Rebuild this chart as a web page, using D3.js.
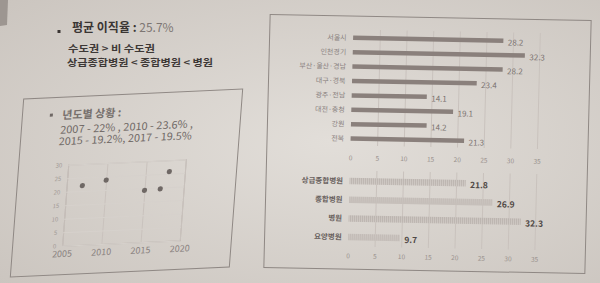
<!DOCTYPE html>
<html>
<head>
<meta charset="utf-8">
<title>이직율 현황</title>
<script src="https://d3js.org/d3.v7.min.js"></script>
<style>
  body { margin:0; background:#d8d3cd; }
  svg text { font-family:"Noto Sans CJK KR","Noto Sans",sans-serif; }
</style>
</head>
<body>
<svg id="chart" width="600" height="283"></svg>
<script type="text/javascript">

// ---- data ----
const years = [2007, 2010, 2015, 2017, 2018];
const yearRates = [22, 23.6, 19.2, 19.5, 25.7];
const yearTicks = [2005, 2010, 2015, 2020];
const rateTicks = [0, 5, 10, 15, 20, 25, 30];

const regions = ['서울시', '인천경기', '부산·울산·경남', '대구·경북', '광주·전남', '대전·충청', '강원', '전북'];
const regionRates = [28.2, 32.3, 28.2, 23.4, 14.1, 19.1, 14.2, 21.3];

const hospitalTypes = ['상급종합병원', '종합병원', '병원', '요양병원'];
const hospitalRates = [21.8, 26.9, 32.3, 9.7];

const barTicks = [0, 5, 10, 15, 20, 25, 30, 35];

const svg = d3.select('#chart');
const defs = svg.append('defs');

// photo background, a bit darker at the corners
const grad = defs.append('radialGradient').attr('id', 'bg')
  .attr('cx', '55%').attr('cy', '50%').attr('r', '75%');
grad.append('stop').attr('offset', '0%').attr('stop-color', '#e2ded9');
grad.append('stop').attr('offset', '100%').attr('stop-color', '#cbc5bf');
svg.append('rect').attr('width', 600).attr('height', 283).attr('fill', 'url(#bg)');
svg.append('path').attr('d', 'M0,0 L8,0 L7,25 L0,26 Z').attr('fill', '#9d9691');

// hatched fill for the hospital bars
const pat = defs.append('pattern').attr('id', 'hatch')
  .attr('patternUnits', 'userSpaceOnUse').attr('width', 2).attr('height', 2);
pat.append('rect').attr('width', 2).attr('height', 2).attr('fill', '#d0cac5');
pat.append('rect').attr('width', 1).attr('height', 2).attr('fill', '#bcb5b0');

// ---- top left text ----
const head = svg.append('g');
head.append('rect').attr('x', 57.5).attr('y', 30).attr('width', 3).attr('height', 3).attr('fill', '#3a3533');
const t1 = head.append('text').attr('x', 72).attr('y', 31.5).attr('font-size', 12);
t1.append('tspan').attr('font-weight', 'bold').attr('fill', '#3a3533').text('평균 이직율 : ');
t1.append('tspan').attr('fill', '#7d7673').text('25.7%');
head.append('text').attr('x', 68).attr('y', 52).attr('font-size', 9.5).attr('font-weight', 'bold')
  .attr('fill', '#3d3836').attr('textLength', 87).attr('lengthAdjust', 'spacingAndGlyphs').text('수도권 > 비 수도권');
head.append('text').attr('x', 67).attr('y', 65.5).attr('font-size', 9.5).attr('font-weight', 'bold')
  .attr('fill', '#3d3836').attr('textLength', 146).attr('lengthAdjust', 'spacingAndGlyphs').text('상급종합병원 < 종합병원 < 병원');

// ---- left panel: yearly scatter (skewed like the photo) ----
const left = svg.append('g')
  .attr('transform', 'translate(126,183) matrix(1,-0.045,-0.075,1,0,0) translate(-126,-183)');

left.append('rect').attr('x', 17).attr('y', 94).attr('width', 219).attr('height', 178)
  .attr('fill', 'none').attr('stroke', '#8f8884').attr('stroke-width', 1);

left.append('rect').attr('x', 44.5).attr('y', 110).attr('width', 3).attr('height', 3).attr('fill', '#6f6865');
left.append('text').attr('x', 57).attr('y', 116).attr('font-size', 11).attr('font-weight', 'bold')
  .attr('fill', '#77706d').text('년도별 상황 :');
left.append('text').attr('x', 56).attr('y', 130.5).attr('font-size', 10.5).attr('fill', '#6f6865')
  .attr('textLength', 133).attr('lengthAdjust', 'spacingAndGlyphs').text('2007 - 22% , 2010 - 23.6% ,');
left.append('text').attr('x', 55.5).attr('y', 142).attr('font-size', 10.5).attr('fill', '#6f6865')
  .attr('textLength', 133).attr('lengthAdjust', 'spacingAndGlyphs').text('2015 - 19.2%, 2017 - 19.5%');

const sx = d3.scaleLinear().domain([2005, 2020]).range([66.7, 184.3]);
const sy = d3.scaleLinear().domain([0, 30]).range([243, 162]);

const sxAxis = left.append('g').attr('transform', 'translate(0,243)')
  .call(d3.axisBottom(sx).tickValues(yearTicks).tickFormat(d3.format('d')).tickSize(-81).tickPadding(5));
sxAxis.select('.domain').attr('stroke', '#bdb6b1');
sxAxis.selectAll('.tick line').attr('stroke', '#c9c2bd');
sxAxis.selectAll('.tick text').attr('font-size', 9).attr('fill', '#8a8280');

const syAxis = left.append('g').attr('transform', 'translate(66.7,0)')
  .call(d3.axisLeft(sy).tickValues(rateTicks).tickSize(-117.6).tickPadding(6));
syAxis.select('.domain').attr('stroke', '#c4bdb8');
syAxis.selectAll('.tick line').attr('stroke', '#d6d1cc');
syAxis.selectAll('.tick text').attr('font-size', 6).attr('fill', '#a39b97');

left.selectAll('circle.pt')
  .data(years)
  .enter()
  .append('circle')
  .attr('class', 'pt')
  .attr('cx', d => sx(d))
  .attr('cy', (d, i) => sy(yearRates[i]))
  .attr('r', 2.6)
  .attr('fill', '#6f6865');

// ---- right panel: bars by region and by hospital type ----
const right = svg.append('g')
  .attr('transform', 'translate(427,144) matrix(1,0.019,-0.025,1,0,0) translate(-427,-144)');

right.append('rect').attr('x', 267).attr('y', 17.5).attr('width', 321).attr('height', 253)
  .attr('fill', 'none').attr('stroke', '#8f8884').attr('stroke-width', 1);

const bx = d3.scaleLinear().domain([0, 35]).range([350.5, 537]);

const drawBars = (cfg) => {
  const g = right.append('g');
  const by = d3.scalePoint().domain(cfg.labels).range(cfg.yRange);

  // vertical grid + tick labels
  const ax = g.append('g').attr('transform', `translate(0,${cfg.gridBottom})`)
    .call(d3.axisBottom(bx).tickValues(barTicks).tickSize(-(cfg.gridBottom - cfg.gridTop)).tickPadding(cfg.tickPad));
  ax.select('.domain').remove();
  ax.selectAll('.tick line').attr('stroke', d => d === 0 ? 'none' : '#c9c2bd');
  ax.selectAll('.tick text').attr('font-size', 6.5).attr('fill', '#9a928e');

  g.selectAll('rect.bar')
    .data(cfg.values)
    .enter()
    .append('rect')
    .attr('class', 'bar')
    .attr('x', bx(0))
    .attr('y', (d, i) => by(cfg.labels[i]) - cfg.barH / 2)
    .attr('width', d => bx(d) - bx(0))
    .attr('height', cfg.barH)
    .attr('fill', cfg.fill);

  g.selectAll('text.lab')
    .data(cfg.labels)
    .enter()
    .append('text')
    .attr('class', 'lab')
    .attr('x', 344)
    .attr('y', d => by(d))
    .attr('dy', '0.35em')
    .attr('text-anchor', 'end')
    .attr('font-size', cfg.labSize)
    .attr('font-weight', cfg.bold ? 'bold' : 'normal')
    .attr('fill', cfg.labColor)
    .text(d => d);

  g.selectAll('text.val')
    .data(cfg.values)
    .enter()
    .append('text')
    .attr('class', 'val')
    .attr('x', d => bx(d) + 4.5)
    .attr('y', (d, i) => by(cfg.labels[i]) + 1.8)
    .attr('dy', '0.35em')
    .attr('font-size', cfg.valSize)
    .attr('font-weight', cfg.bold ? 'bold' : 'normal')
    .attr('fill', cfg.valColor)
    .text(d => d.toFixed(1));
};

drawBars({
  labels: regions, values: regionRates, yRange: [39.3, 140], barH: 4.5,
  gridTop: 31, gridBottom: 147, tickPad: 10, fill: '#8a807c',
  labSize: 7, labColor: '#8a8280', valSize: 8, valColor: '#7a7270', bold: false
});

drawBars({
  labels: hospitalTypes, values: hospitalRates, yRange: [182.5, 238.5], barH: 6.5,
  gridTop: 172, gridBottom: 248, tickPad: 7, fill: 'url(#hatch)',
  labSize: 7.5, labColor: '#6a6260', valSize: 8.5, valColor: '#504946', bold: true
});

</script>
</body>
</html>
